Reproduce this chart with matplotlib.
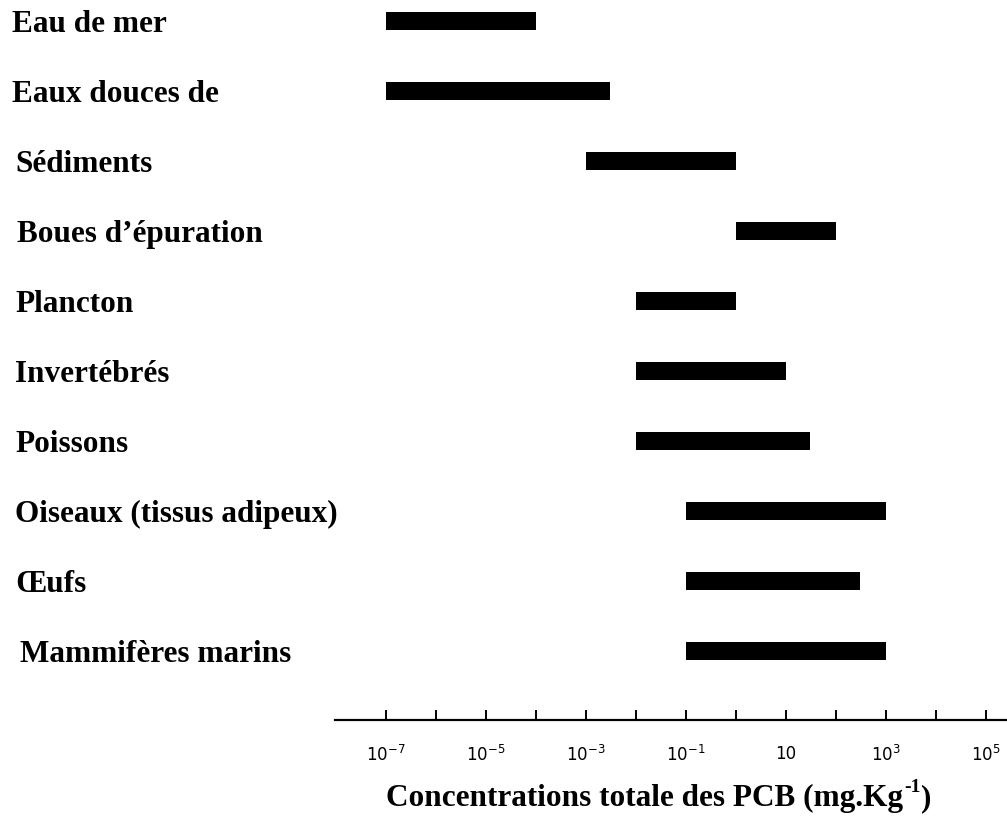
import numpy as np
import matplotlib
matplotlib.use("Agg")
import matplotlib.pyplot as plt
from matplotlib.ticker import FixedLocator, FixedFormatter
from matplotlib.transforms import blended_transform_factory

# categories and concentration ranges (mg/kg)
categories = ['Eau de mer', 'Eaux douces de', 'Sédiments', 'Boues d’épuration',
              'Plancton', 'Invertébrés', 'Poissons', 'Oiseaux (tissus adipeux)',
              'Œufs', 'Mammifères marins']
low = [1e-7, 1e-7, 1e-3, 1, 1e-2, 1e-2, 1e-2, 1e-1, 1e-1, 1e-1]
high = [1e-4, 3e-3, 1, 100, 1, 10, 30, 1000, 300, 1000]

tick_exponents = list(range(-7, 6))
tick_labels = [r'$10^{-7}$', '', r'$10^{-5}$', '', r'$10^{-3}$', '', r'$10^{-1}$',
               '', '10', '', r'$10^{3}$', '', r'$10^{5}$']

xlabel_text = 'Concentrations totale des PCB (mg.Kg'

plt.rcParams['mathtext.fontset'] = 'custom'
plt.rcParams['mathtext.rm'] = 'DejaVu Sans'
plt.rcParams['mathtext.bf'] = 'Liberation Serif:bold'

W, H = 1007, 823
fig = plt.figure(figsize=(W / 100, H / 100), dpi=100)
ax = fig.add_axes([335 / W, (H - 720) / H, 1 - 335 / W, 720 / H])

y = np.arange(len(categories))
widths = [h - l for l, h in zip(low, high)]
ax.barh(y, widths, left=low, height=0.26, color='black')

ax.set_xscale('log')
ax.set_xlim(10 ** -8.02, 10 ** 5.42)
ax.set_ylim(9.986, -0.3)

for side in ['top', 'right', 'left']:
    ax.spines[side].set_visible(False)
ax.spines['bottom'].set_linewidth(1.6)
ax.set_yticks([])

ticks = [10.0 ** e for e in tick_exponents]
ax.xaxis.set_major_locator(FixedLocator(ticks))
ax.xaxis.set_major_formatter(FixedFormatter(tick_labels))
ax.xaxis.set_minor_locator(FixedLocator([]))
ax.tick_params(axis='x', direction='in', length=7, width=1.4, pad=18,
               labelsize=12)
for t in ax.get_xticklabels():
    t.set_fontfamily('DejaVu Sans')

# category labels on the left, in figure pixels
label_x = [12, 12, 15, 17, 15, 15, 15, 15, 15, 20]
trans = blended_transform_factory(fig.transFigure, ax.transData)
for i, (name, lx) in enumerate(zip(categories, label_x)):
    ax.text(lx / W, i, name, transform=trans,
            ha='left', va='center_baseline', fontsize=22.5, fontweight='bold',
            family='Liberation Serif')

# x label with a small superscript drawn as separate text
t = fig.text(386 / W, 1 - 795 / H, xlabel_text, ha='left', va='center_baseline',
             fontsize=22.5, fontweight='bold', family='Liberation Serif')
fig.canvas.draw()
bb = t.get_window_extent()
sup = fig.text(bb.x1 / W + 0.001, 1 - 786 / H, '-1', ha='left', va='center_baseline',
               fontsize=14, fontweight='bold', family='Liberation Serif')
fig.canvas.draw()
bb2 = sup.get_window_extent()
fig.text(bb2.x1 / W + 0.001, 1 - 795 / H, ')', ha='left', va='center_baseline',
         fontsize=22.5, fontweight='bold', family='Liberation Serif')

fig.savefig('out.png', dpi=100)
